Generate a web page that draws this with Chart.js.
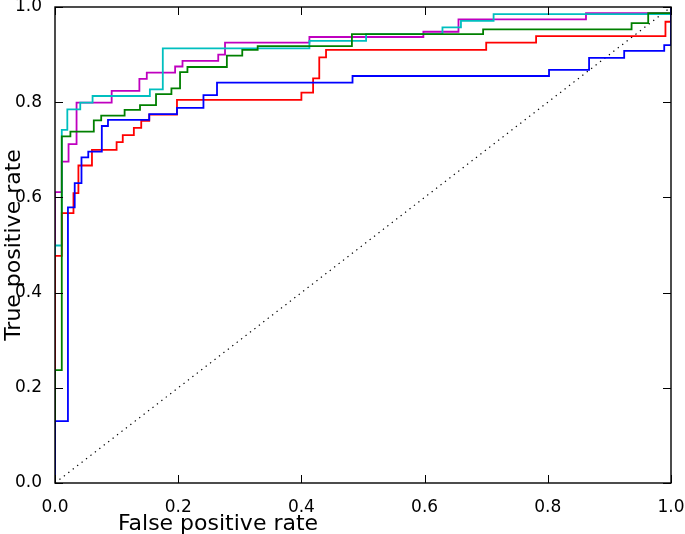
<!DOCTYPE html>
<html>
<head>
<meta charset="utf-8">
<title>ROC curves</title>
<script src="https://cdn.jsdelivr.net/npm/chart.js@4.4.1/dist/chart.umd.min.js"></script>
<style>
html,body{margin:0;padding:0;background:#fff}
#wrap{width:685px;height:534px;position:relative}
</style>
</head>
<body>
<div id="wrap"><canvas id="roc"></canvas></div>
<script>
// ROC corner points [fpr, tpr]
const blueRoc = [[0,0],[0,0.130],[0.021,0.130],[0.021,0.579],[0.032,0.579],[0.032,0.630],[0.043,0.630],[0.043,0.684],
  [0.054,0.684],[0.054,0.696],[0.076,0.696],[0.076,0.750],[0.086,0.750],[0.086,0.763],[0.153,0.763],[0.153,0.775],
  [0.198,0.775],[0.198,0.788],[0.241,0.788],[0.241,0.815],[0.263,0.815],[0.263,0.841],[0.483,0.841],[0.483,0.855],
  [0.802,0.855],[0.802,0.868],[0.867,0.868],[0.867,0.893],[0.924,0.893],[0.924,0.908],[0.989,0.908],[0.989,0.920],
  [1,0.920],[1,1]];

const greenRoc = [[0,0],[0,0.237],[0.011,0.237],[0.011,0.728],[0.025,0.728],[0.025,0.738],[0.063,0.738],[0.063,0.762],
  [0.075,0.762],[0.075,0.772],[0.113,0.772],[0.113,0.784],[0.138,0.784],[0.138,0.794],[0.164,0.794],[0.164,0.817],
  [0.189,0.817],[0.189,0.829],[0.203,0.829],[0.203,0.863],[0.215,0.863],[0.215,0.874],[0.279,0.874],[0.279,0.898],
  [0.304,0.898],[0.304,0.910],[0.329,0.910],[0.329,0.918],[0.482,0.918],[0.482,0.943],[0.695,0.943],[0.695,0.953],
  [0.936,0.953],[0.936,0.966],[0.963,0.966],[0.963,0.987],[1,0.987],[1,1]];

const redRoc = [[0,0],[0,0.477],[0.011,0.477],[0.011,0.567],[0.030,0.567],[0.030,0.609],[0.038,0.609],[0.038,0.667],
  [0.060,0.667],[0.060,0.700],[0.100,0.700],[0.100,0.716],[0.110,0.716],[0.110,0.731],[0.128,0.731],[0.128,0.746],
  [0.140,0.746],[0.140,0.761],[0.153,0.761],[0.153,0.774],[0.198,0.774],[0.198,0.805],[0.400,0.805],[0.400,0.820],
  [0.419,0.820],[0.419,0.850],[0.429,0.850],[0.429,0.894],[0.440,0.894],[0.440,0.910],[0.700,0.910],[0.700,0.925],
  [0.781,0.925],[0.781,0.939],[0.991,0.939],[0.991,0.969],[1,0.969],[1,1]];

const cyanRoc = [[0,0],[0,0.499],[0.011,0.499],[0.011,0.742],[0.020,0.742],[0.020,0.785],[0.041,0.785],[0.041,0.799],
  [0.061,0.799],[0.061,0.813],[0.154,0.813],[0.154,0.827],[0.175,0.827],[0.175,0.913],[0.413,0.913],[0.413,0.929],
  [0.505,0.929],[0.505,0.943],[0.629,0.943],[0.629,0.957],[0.659,0.957],[0.659,0.971],[0.712,0.971],[0.712,0.985],
  [1,0.985],[1,1]];

const magentaRoc = [[0,0],[0,0.611],[0.011,0.611],[0.011,0.675],[0.022,0.675],[0.022,0.712],[0.035,0.712],[0.035,0.799],
  [0.092,0.799],[0.092,0.824],[0.137,0.824],[0.137,0.849],[0.149,0.849],[0.149,0.862],[0.195,0.862],[0.195,0.875],
  [0.207,0.875],[0.207,0.887],[0.265,0.887],[0.265,0.900],[0.276,0.900],[0.276,0.925],[0.413,0.925],[0.413,0.937],
  [0.598,0.937],[0.598,0.948],[0.655,0.948],[0.655,0.974],[0.862,0.974],[0.862,0.987],[1,0.987],[1,1]];

const chanceLine = [[0,0],[1,1]];

const axisTicks = [0, 0.2, 0.4, 0.6, 0.8, 1.0];
const xTitle = 'False positive rate';
const yTitle = 'True positive rate';

const FONT = '"DejaVu Sans", "Liberation Sans", sans-serif';
const TICK_LEN = 8;

function pts(arr){ return arr.map(p => ({x:p[0], y:p[1]})); }

function curve(arr, color){
  return {
    data: pts(arr),
    borderColor: color,
    borderWidth: 1.8,
    pointRadius: 0,
    showLine: true,
    fill: false,
    tension: 0
  };
}

// matplotlib-ish frame: full box, inward ticks on all sides, axis titles
const framePlugin = {
  id: 'frame',
  afterDatasetsDraw(chart){
    const {ctx, chartArea:a, scales:{x, y}} = chart;
    ctx.save();
    ctx.strokeStyle = '#000';
    ctx.lineWidth = 1;
    ctx.beginPath();
    x.ticks.forEach(t => {
      const px = Math.round(x.getPixelForValue(t.value)) + 0.5;
      ctx.moveTo(px, a.bottom); ctx.lineTo(px, a.bottom - TICK_LEN);
      ctx.moveTo(px, a.top); ctx.lineTo(px, a.top + TICK_LEN);
    });
    y.ticks.forEach(t => {
      const py = Math.round(y.getPixelForValue(t.value)) + 0.5;
      ctx.moveTo(a.left, py); ctx.lineTo(a.left + TICK_LEN, py);
      ctx.moveTo(a.right, py); ctx.lineTo(a.right - TICK_LEN, py);
    });
    ctx.stroke();
    ctx.lineWidth = 1.4;
    ctx.strokeRect(a.left, a.top, a.right - a.left, a.bottom - a.top);

    ctx.fillStyle = '#000';
    ctx.font = '22px ' + FONT;
    ctx.textAlign = 'center';
    ctx.textBaseline = 'alphabetic';
    ctx.fillText(xTitle, 218, 529.5);
    ctx.translate(19.5, (a.top + a.bottom) / 2);
    ctx.rotate(-Math.PI / 2);
    ctx.fillText(yTitle, 0, 0);
    ctx.restore();
  }
};

const tickFmt = v => Number(v).toFixed(1);

new Chart(document.getElementById('roc'), {
  type: 'scatter',
  data: {
    datasets: [
      curve(blueRoc, '#0000ff'),
      curve(greenRoc, '#008000'),
      curve(redRoc, '#ff0000'),
      curve(cyanRoc, '#00bfbf'),
      curve(magentaRoc, '#bf00bf'),
      {
        data: pts(chanceLine),
        borderColor: '#000',
        borderWidth: 1.2,
        borderDash: [1.3, 4.3],
        pointRadius: 0,
        showLine: true,
        fill: false
      }
    ]
  },
  options: {
    responsive: true,
    maintainAspectRatio: false,
    animation: false,
    devicePixelRatio: 1,
    layout: { padding: { top: 7, right: 14, left: 0, bottom: 0 } },
    plugins: { legend: { display: false }, tooltip: { enabled: false } },
    scales: {
      x: {
        type: 'linear', min: 0, max: 1,
        afterBuildTicks: s => { s.ticks = axisTicks.map(v => ({value: v})); },
        afterFit: s => { s.height = 51; s.paddingLeft = 0; s.paddingRight = 0; },
        grid: { display: false },
        border: { display: false },
        ticks: { autoSkip: false, maxRotation: 0, padding: 6, color: '#000',
                 font: { family: FONT, size: 17 }, callback: tickFmt }
      },
      y: {
        type: 'linear', min: 0, max: 1,
        afterBuildTicks: s => { s.ticks = axisTicks.map(v => ({value: v})); },
        afterFit: s => { s.width = 55; s.paddingTop = 0; s.paddingBottom = 0; },
        grid: { display: false },
        border: { display: false },
        ticks: { autoSkip: false, padding: 5, color: '#000',
                 font: { family: FONT, size: 17 }, callback: tickFmt }
      }
    }
  },
  plugins: [framePlugin]
});
</script>
</body>
</html>
